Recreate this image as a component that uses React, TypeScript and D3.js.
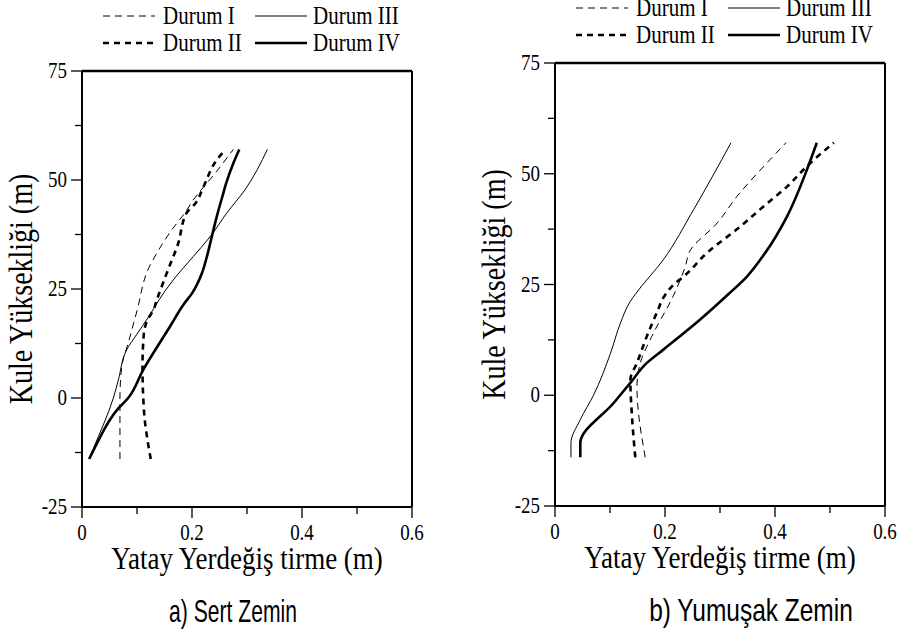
import React from 'react';
import * as d3 from 'd3';

type Pt = [number, number];

// a) Sert Zemin — [yatay yerdegistirme (m), kule yuksekligi (m)]
const sertDurumI: Pt[] = [
  [0.069, -14], [0.069, 0], [0.072, 7], [0.085, 13], [0.1, 20], [0.122, 30],
  [0.135, 33], [0.16, 38], [0.19, 43], [0.2, 45], [0.245, 52], [0.275, 57],
];
const sertDurumII: Pt[] = [
  [0.125, -14], [0.119, -9.6], [0.113, -3.5], [0.11, 7.2], [0.112, 14.1],
  [0.119, 17.9], [0.13, 20.2], [0.136, 22.5], [0.154, 28.6], [0.175, 35.5],
  [0.19, 42.4], [0.206, 44.6], [0.221, 48.5], [0.245, 54.6], [0.261, 57],
];
const sertDurumIII: Pt[] = [
  [0.013, -14], [0.021, -11.5], [0.057, 0], [0.066, 4.1], [0.081, 11],
  [0.099, 14.5], [0.121, 18.6], [0.14, 22.5], [0.166, 27.1], [0.202, 32.4],
  [0.233, 37], [0.263, 42.4], [0.296, 47.7], [0.337, 57],
];
const sertDurumIV: Pt[] = [
  [0.013, -14], [0.024, -11.2], [0.066, -2.4], [0.084, 0], [0.111, 6.4],
  [0.16, 16.4], [0.185, 21.5], [0.2, 24], [0.218, 28.6], [0.227, 32.4],
  [0.236, 37], [0.245, 41.6], [0.257, 47], [0.262, 49.2], [0.275, 53.8], [0.286, 57],
];

// b) Yumusak Zemin
const yumusakDurumI: Pt[] = [
  [0.164, -14], [0.149, 2], [0.155, 7.3], [0.176, 13.3], [0.215, 22.4],
  [0.237, 29.1], [0.245, 32.5], [0.295, 38.9], [0.331, 44.9], [0.385, 52.4], [0.42, 57],
];
const yumusakDurumII: Pt[] = [
  [0.146, -14], [0.14, -4.8], [0.137, 3.5], [0.149, 7.3], [0.167, 13.3],
  [0.185, 18.6], [0.199, 22.4], [0.216, 25], [0.234, 26.8], [0.276, 32.1],
  [0.337, 38.1], [0.379, 42.6], [0.422, 47.1], [0.458, 51.7], [0.507, 57],
];
const yumusakDurumIII: Pt[] = [
  [0.029, -14], [0.029, -10.8], [0.046, -5.5], [0.07, 0], [0.101, 9.5],
  [0.119, 16.3], [0.137, 21.2], [0.146, 22.8], [0.197, 30.6], [0.252, 41.9], [0.32, 57],
];
const yumusakDurumIV: Pt[] = [
  [0.046, -14], [0.046, -10.8], [0.107, -1.7], [0.137, 2.8], [0.167, 7.3],
  [0.197, 10.3], [0.264, 17.1], [0.316, 22.9], [0.349, 26.8], [0.382, 32.1],
  [0.422, 40.4], [0.458, 50.9], [0.476, 57],
];

const xTicks = [0, 0.2, 0.4, 0.6];
const xMinorTicks = [0.1, 0.3, 0.5];
const yTicks = [-25, 0, 25, 50, 75];
const yMinorTicks = [-12.5, 12.5, 37.5, 62.5];
const legendNames = ['Durum I', 'Durum II', 'Durum III', 'Durum IV'];

const SERIF = '"Liberation Serif", "Times New Roman", serif';
const SANS = '"Liberation Sans", Arial, sans-serif';
const STRETCH = 1.2; // kaynak goruntu dikeyde biraz cekilmis

// stil: ince kesikli, kalin kesikli, ince duz, kalin duz
const styles = [
  { w: 1, dash: '7,5' },
  { w: 2.6, dash: '6,5' },
  { w: 1, dash: undefined },
  { w: 2.6, dash: undefined },
];

function T({ x, y, size, anchor = 'start', sx = 1, sy = STRETCH, rotate = 0, family = SERIF, children }: {
  x: number; y: number; size: number; anchor?: string; sx?: number; sy?: number;
  rotate?: number; family?: string; children: React.ReactNode;
}) {
  return (
    <text transform={`translate(${x},${y}) rotate(${rotate}) scale(${sx},${sy})`}
      textAnchor={anchor} fontFamily={family} fontSize={size} fill="#000">
      {children}
    </text>
  );
}

function Panel({ series, left, right, top, bottom, legendY, caption, captionX, captionSx }: {
  series: Pt[][]; left: number; right: number; top: number; bottom: number;
  legendY: number; caption: string; captionX: number; captionSx: number;
}) {
  const x = d3.scaleLinear().domain([0, 0.6]).range([left, right]);
  const y = d3.scaleLinear().domain([-25, 75]).range([bottom, top]);
  const line = d3.line<Pt>().x((d) => x(d[0])).y((d) => y(d[1])).curve(d3.curveMonotoneY);
  const cx = (left + right) / 2;
  const lx = left + 21;

  return (
    <g>
      {/* lejant */}
      {legendNames.map((name, i) => {
        const col = i < 2 ? 0 : 1;
        const row = i % 2;
        const x0 = lx + col * 152;
        const yy = legendY + row * 27;
        const s = styles[i];
        return (
          <g key={name}>
            <line x1={x0} x2={x0 + 52} y1={yy} y2={yy} stroke="#000"
              strokeWidth={s.w} strokeDasharray={s.dash} />
            <T x={x0 + 60 - (col ? 2 : 0)} y={yy + 8} size={21}>{name}</T>
          </g>
        );
      })}

      {/* cizgiler */}
      {series.map((d, i) => (
        <path key={i} d={line(d) ?? ''} fill="none" stroke="#000"
          strokeWidth={styles[i].w} strokeDasharray={styles[i].dash} />
      ))}

      {/* cerceve */}
      <line x1={left} x2={right} y1={top} y2={top} stroke="#000" strokeWidth={2.5} />
      <line x1={right} x2={right} y1={top} y2={bottom} stroke="#000" strokeWidth={2} />
      <line x1={left} x2={right} y1={bottom} y2={bottom} stroke="#000" strokeWidth={2} />
      <line x1={left} x2={left} y1={top} y2={bottom} stroke="#000" strokeWidth={2} />

      {yTicks.map((t) => (
        <g key={t}>
          <line x1={left - 11} x2={left} y1={y(t)} y2={y(t)} stroke="#000" strokeWidth={1.3} />
          <T x={left - 15} y={y(t) + 7} size={19} anchor="end">{t}</T>
        </g>
      ))}
      {yMinorTicks.map((t) => (
        <line key={t} x1={left - 7} x2={left} y1={y(t)} y2={y(t)} stroke="#000" strokeWidth={1.3} />
      ))}
      {xTicks.map((t) => (
        <g key={t}>
          <line x1={x(t)} x2={x(t)} y1={bottom} y2={bottom + 11} stroke="#000" strokeWidth={1.3} />
          <T x={x(t)} y={bottom + 33} size={19} anchor="middle">{t}</T>
        </g>
      ))}
      {xMinorTicks.map((t) => (
        <line key={t} x1={x(t)} x2={x(t)} y1={bottom} y2={bottom + 7} stroke="#000" strokeWidth={1.3} />
      ))}

      <T x={cx} y={bottom + 62} size={27} anchor="middle">Yatay Yerdeğiş tirme (m)</T>
      <T x={left - 50} y={(top + bottom) / 2} size={28} anchor="middle" rotate={-90}>
        Kule Yüksekliği (m)
      </T>
      <T x={captionX} y={bottom + 115} size={24} anchor="middle" family={SANS} sx={captionSx} sy={1.3}>
        {caption}
      </T>
    </g>
  );
}

export default function App() {
  return (
    <svg width={902} height={642} style={{ position: 'absolute', left: 0, top: 0, background: '#fff' }}>
      <Panel series={[sertDurumI, sertDurumII, sertDurumIII, sertDurumIV]}
        left={82} right={412} top={71} bottom={507} legendY={16}
        caption="a) Sert Zemin" captionX={233} captionSx={0.88} />
      <Panel series={[yumusakDurumI, yumusakDurumII, yumusakDurumIII, yumusakDurumIV]}
        left={555} right={885} top={63} bottom={506} legendY={8}
        caption="b) Yumuşak Zemin" captionX={751} captionSx={1.02} />
    </svg>
  );
}
